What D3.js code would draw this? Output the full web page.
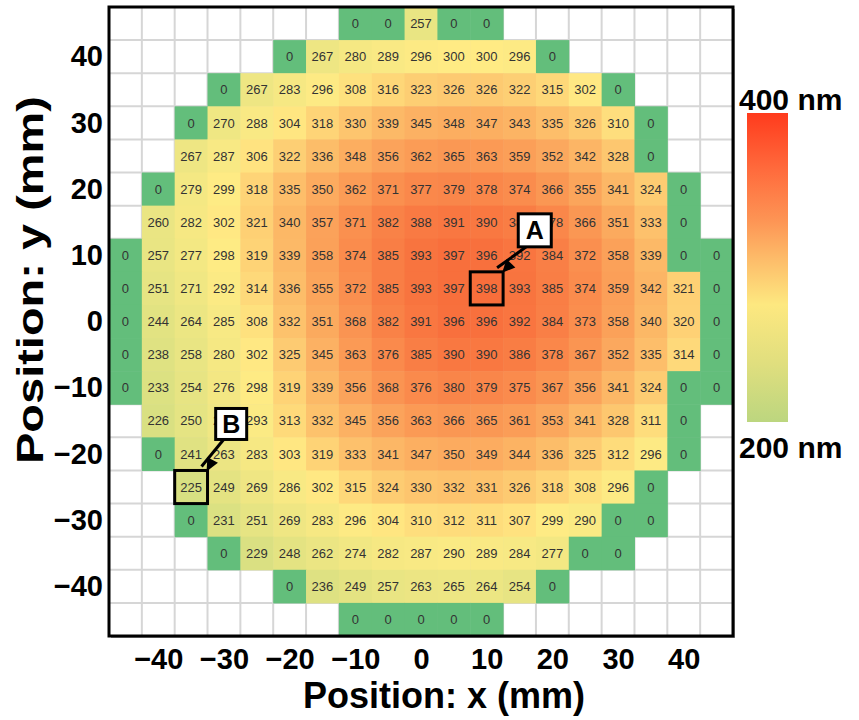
<!DOCTYPE html>
<html>
<head>
<meta charset="utf-8">
<script src="https://cdn.jsdelivr.net/npm/d3@7"></script>
<style>
  body { margin: 0; background: #fff; }
  svg text { font-family: "Liberation Sans", Arial, sans-serif; }
</style>
</head>
<body>
<div id="chart"></div>
<script>
// Grid positions (mm)
var xPositions = [-45, -40, -35, -30, -25, -20, -15, -10, -5, 0, 5, 10, 15, 20, 25, 30, 35, 40, 45];
var yPositions = [45, 40, 35, 30, 25, 20, 15, 10, 5, 0, -5, -10, -15, -20, -25, -30, -35, -40, -45];
var xTicks = [-40, -30, -20, -10, 0, 10, 20, 30, 40];
var yTicks = [40, 30, 20, 10, 0, -10, -20, -30, -40];

// Thickness (nm), one array per row from top (y = 45) to bottom (y = -45); null = not measured
var _ = null;
var row45  = [_, _, _, _, _, _, _, 0, 0, 257, 0, 0, _, _, _, _, _, _, _];
var row40  = [_, _, _, _, _, 0, 267, 280, 289, 296, 300, 300, 296, 0, _, _, _, _, _];
var row35  = [_, _, _, 0, 267, 283, 296, 308, 316, 323, 326, 326, 322, 315, 302, 0, _, _, _];
var row30  = [_, _, 0, 270, 288, 304, 318, 330, 339, 345, 348, 347, 343, 335, 326, 310, 0, _, _];
var row25  = [_, _, 267, 287, 306, 322, 336, 348, 356, 362, 365, 363, 359, 352, 342, 328, 0, _, _];
var row20  = [_, 0, 279, 299, 318, 335, 350, 362, 371, 377, 379, 378, 374, 366, 355, 341, 324, 0, _];
var row15  = [_, 260, 282, 302, 321, 340, 357, 371, 382, 388, 391, 390, 386, 378, 366, 351, 333, 0, _];
var row10  = [0, 257, 277, 298, 319, 339, 358, 374, 385, 393, 397, 396, 392, 384, 372, 358, 339, 0, 0];
var row5   = [0, 251, 271, 292, 314, 336, 355, 372, 385, 393, 397, 398, 393, 385, 374, 359, 342, 321, 0];
var row0   = [0, 244, 264, 285, 308, 332, 351, 368, 382, 391, 396, 396, 392, 384, 373, 358, 340, 320, 0];
var rowM5  = [0, 238, 258, 280, 302, 325, 345, 363, 376, 385, 390, 390, 386, 378, 367, 352, 335, 314, 0];
var rowM10 = [0, 233, 254, 276, 298, 319, 339, 356, 368, 376, 380, 379, 375, 367, 356, 341, 324, 0, 0];
var rowM15 = [_, 226, 250, 272, 293, 313, 332, 345, 356, 363, 366, 365, 361, 353, 341, 328, 311, 0, _];
var rowM20 = [_, 0, 241, 263, 283, 303, 319, 333, 341, 347, 350, 349, 344, 336, 325, 312, 296, 0, _];
var rowM25 = [_, _, 225, 249, 269, 286, 302, 315, 324, 330, 332, 331, 326, 318, 308, 296, 0, _, _];
var rowM30 = [_, _, 0, 231, 251, 269, 283, 296, 304, 310, 312, 311, 307, 299, 290, 0, 0, _, _];
var rowM35 = [_, _, _, 0, 229, 248, 262, 274, 282, 287, 290, 289, 284, 277, 0, 0, _, _, _];
var rowM40 = [_, _, _, _, _, 0, 236, 249, 257, 263, 265, 264, 254, 0, _, _, _, _, _];
var rowM45 = [_, _, _, _, _, _, _, 0, 0, 0, 0, 0, _, _, _, _, _, _, _];
var rows = [row45, row40, row35, row30, row25, row20, row15, row10, row5, row0,
            rowM5, rowM10, rowM15, rowM20, rowM25, rowM30, rowM35, rowM40, rowM45];

// Highlighted points
var marked = [{ label: "A", x: 10, y: 5 }, { label: "B", x: -35, y: -25 }];

// Colour bar
var legendLabels = ["400 nm", "200 nm"];
var legendStops = [
  { offset: 0, color: "#ff3b1d" },
  { offset: 0.18, color: "#ff6a3c" },
  { offset: 0.35, color: "#fd9555" },
  { offset: 0.47, color: "#fdbb69" },
  { offset: 0.62, color: "#fde880" },
  { offset: 0.8, color: "#e2df7e" },
  { offset: 1, color: "#bcd67f" }
];

var svgWidth = 859;
var svgHeight = 720;
var plot = { left: 109, right: 733, top: 7, bottom: 636 };

var svg = d3.select("#chart").append("svg")
  .attr("width", svgWidth)
  .attr("height", svgHeight);

var xBand = d3.scaleBand().domain(xPositions).range([plot.left, plot.right]);
var yBand = d3.scaleBand().domain(yPositions).range([plot.top, plot.bottom]);
var half = 2.5;
var xLin = d3.scaleLinear().domain([-45 - half, 45 + half]).range([plot.left, plot.right]);
var yLin = d3.scaleLinear().domain([45 + half, -45 - half]).range([plot.top, plot.bottom]);

var color = d3.scaleLinear()
  .domain([0, 300, 400])
  .range(["#63BE7B", "#FFEB84", "#F86B3A"]);

// drop shadow + background
svg.append("rect")
  .attr("x", plot.left + 2).attr("y", plot.top + 2)
  .attr("width", plot.right - plot.left).attr("height", plot.bottom - plot.top)
  .attr("fill", "#9a9a9a");
svg.append("rect")
  .attr("x", plot.left).attr("y", plot.top)
  .attr("width", plot.right - plot.left).attr("height", plot.bottom - plot.top)
  .attr("fill", "#fff");

// grid lines
var grid = svg.append("g").attr("stroke", "#d6d6d6").attr("stroke-width", 2);
grid.selectAll("line.v")
  .data(xPositions.slice(1))
  .enter().append("line")
  .attr("x1", function (d) { return xBand(d); })
  .attr("x2", function (d) { return xBand(d); })
  .attr("y1", plot.top).attr("y2", plot.bottom);
grid.selectAll("line.h")
  .data(yPositions.slice(1))
  .enter().append("line")
  .attr("y1", function (d) { return yBand(d); })
  .attr("y2", function (d) { return yBand(d); })
  .attr("x1", plot.left).attr("x2", plot.right);

// flatten cells
var cells = [];
rows.forEach(function (r, i) {
  r.forEach(function (v, j) {
    if (v !== null) cells.push({ x: xPositions[j], y: yPositions[i], value: v });
  });
});

svg.append("g").selectAll("rect")
  .data(cells)
  .enter().append("rect")
  .attr("x", function (d) { return xBand(d.x); })
  .attr("y", function (d) { return yBand(d.y); })
  .attr("width", xBand.bandwidth() + 0.5)
  .attr("height", yBand.bandwidth() + 0.5)
  .attr("fill", function (d) { return color(d.value); });

svg.append("g").selectAll("text")
  .data(cells)
  .enter().append("text")
  .attr("x", function (d) { return xBand(d.x) + xBand.bandwidth() / 2; })
  .attr("y", function (d) { return yBand(d.y) + yBand.bandwidth() / 2; })
  .attr("dy", "0.36em")
  .attr("text-anchor", "middle")
  .attr("font-size", "13px")
  .attr("fill", "#333")
  .text(function (d) { return d.value; });

// frame
svg.append("rect")
  .attr("x", plot.left).attr("y", plot.top)
  .attr("width", plot.right - plot.left).attr("height", plot.bottom - plot.top)
  .attr("fill", "none").attr("stroke", "#000").attr("stroke-width", 3);

// axes
var xAxis = svg.append("g")
  .attr("transform", "translate(0," + (plot.bottom + 12) + ")")
  .call(d3.axisBottom(xLin).tickValues(xTicks).tickSize(0).tickPadding(0));
xAxis.select(".domain").remove();
xAxis.selectAll("text")
  .attr("font-size", "29px").attr("font-weight", "bold").attr("fill", "#000")
  .attr("font-family", "Liberation Sans, Arial, sans-serif")
  .attr("dy", "0.71em");

var yAxis = svg.append("g")
  .attr("transform", "translate(" + (plot.left - 6) + ",0)")
  .call(d3.axisLeft(yLin).tickValues(yTicks).tickSize(0).tickPadding(0));
yAxis.select(".domain").remove();
yAxis.selectAll("text")
  .attr("font-size", "29px").attr("font-weight", "bold").attr("fill", "#000")
  .attr("font-family", "Liberation Sans, Arial, sans-serif");

svg.append("text")
  .attr("x", 444).attr("y", 708)
  .attr("text-anchor", "middle")
  .attr("font-size", "36px").attr("font-weight", "bold")
  .text("Position: x (mm)");

svg.append("text")
  .attr("transform", "translate(43," + 280 + ") rotate(-90)")
  .attr("text-anchor", "middle")
  .attr("font-size", "37px").attr("font-weight", "bold")
  .attr("textLength", 368).attr("lengthAdjust", "spacingAndGlyphs")
  .text("Position: y (mm)");

// highlight boxes with labels
var ann = svg.append("g");
marked.forEach(function (m, i) {
  var cx = xBand(m.x), cy = yBand(m.y);
  var w = xBand.bandwidth(), h = yBand.bandwidth();
  ann.append("rect")
    .attr("x", cx).attr("y", cy).attr("width", w).attr("height", h)
    .attr("fill", "none").attr("stroke", "#000").attr("stroke-width", 3);
  var bx = cx + (i === 0 ? 48 : 41);
  var by = cy - (i === 0 ? 58 : 62);
  var bs = i === 0 ? 33 : 31;
  ann.append("line")
    .attr("x1", bx + 8).attr("y1", by + bs)
    .attr("x2", cx + w - 6).attr("y2", cy - 4)
    .attr("stroke", "#000").attr("stroke-width", 3);
  var tipX = cx + w - 1, tipY = cy + 1;
  var ang = Math.atan2(tipY - (by + bs), tipX - (bx + 8));
  var L = 13, W = 6;
  var p1 = [tipX - L * Math.cos(ang) + W * Math.sin(ang), tipY - L * Math.sin(ang) - W * Math.cos(ang)];
  var p2 = [tipX - L * Math.cos(ang) - W * Math.sin(ang), tipY - L * Math.sin(ang) + W * Math.cos(ang)];
  ann.append("path")
    .attr("d", "M" + tipX + "," + tipY + "L" + p1 + "L" + p2 + "Z")
    .attr("fill", "#000");
  ann.append("rect")
    .attr("x", bx).attr("y", by).attr("width", bs).attr("height", bs)
    .attr("fill", "#fff").attr("stroke", "#000").attr("stroke-width", 3);
  ann.append("text")
    .attr("x", bx + bs / 2).attr("y", by + bs / 2)
    .attr("dy", "0.36em")
    .attr("text-anchor", "middle")
    .attr("font-size", "25px").attr("font-weight", "bold")
    .text(m.label);
});

// colour bar
var defs = svg.append("defs");
var grad = defs.append("linearGradient")
  .attr("id", "cbar").attr("x1", 0).attr("y1", 0).attr("x2", 0).attr("y2", 1);
grad.selectAll("stop")
  .data(legendStops)
  .enter().append("stop")
  .attr("offset", function (d) { return d.offset; })
  .attr("stop-color", function (d) { return d.color; });

svg.append("rect")
  .attr("x", 747).attr("y", 113).attr("width", 41).attr("height", 309)
  .attr("fill", "url(#cbar)");

svg.selectAll("text.leg")
  .data(legendLabels)
  .enter().append("text")
  .attr("class", "leg")
  .attr("x", 739)
  .attr("y", function (d, i) { return i === 0 ? 110 : 458; })
  .attr("font-size", "30px").attr("font-weight", "bold")
  .text(function (d) { return d; });
</script>
</body>
</html>
